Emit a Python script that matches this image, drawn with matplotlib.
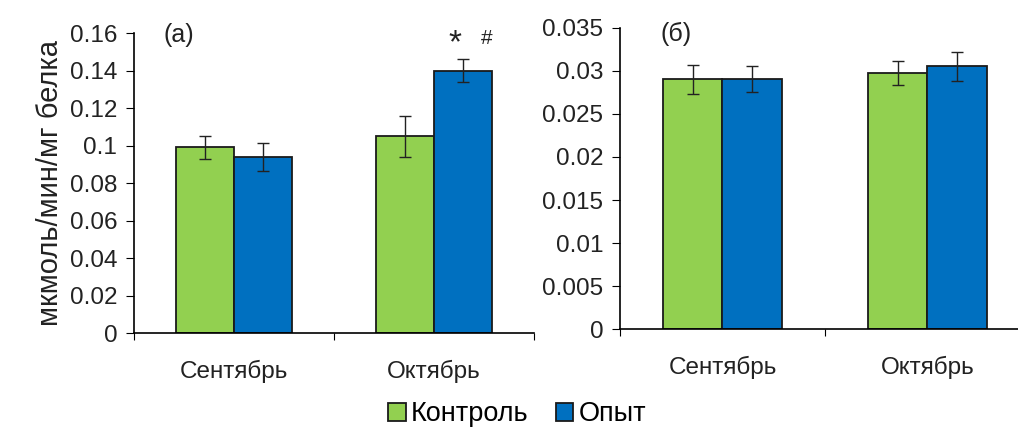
import matplotlib
matplotlib.use("Agg")
import matplotlib.pyplot as plt
import numpy as np

plt.rcParams['font.family'] = ['Liberation Sans', 'DejaVu Sans']

months = ['Сентябрь', 'Октябрь']
series = ['Контроль', 'Опыт']
colors = ['#92D050', '#0070C0']

# panel (a)
a_control = [0.099, 0.105]
a_control_err = [0.006, 0.011]
a_exp = [0.094, 0.140]
a_exp_err = [0.0075, 0.006]

# panel (б)
b_control = [0.029, 0.0297]
b_control_err = [0.0017, 0.0014]
b_exp = [0.029, 0.0305]
b_exp_err = [0.0015, 0.0017]

fig = plt.figure(figsize=(10.18, 4.36), dpi=100)
ax1 = fig.add_axes([0.1316, 0.2362, 0.393, 0.688])
ax2 = fig.add_axes([0.609, 0.2447, 0.4028, 0.6918])

w = 0.29
x = np.arange(len(months)) + 0.5


def panel(ax, ctl, ctl_err, exp, exp_err, ymax, step, fmt):
    b1 = ax.bar(x - w / 2, ctl, w, yerr=ctl_err, color=colors[0], edgecolor='#1a1a1a',
                linewidth=1.3, capsize=4, error_kw=dict(elinewidth=1, capthick=1, ecolor='#222222'),
                label=series[0])
    b2 = ax.bar(x + w / 2, exp, w, yerr=exp_err, color=colors[1], edgecolor='#1a1a1a',
                linewidth=1.3, capsize=4, error_kw=dict(elinewidth=1, capthick=1, ecolor='#222222'),
                label=series[1])
    ax.set_xlim(0, 2)
    ax.set_ylim(0, ymax)
    yt = np.arange(0, ymax + step / 2, step)
    ax.set_yticks(yt)
    ax.set_yticklabels([fmt(v) for v in yt], fontsize=17.5, color='#222222')
    ax.set_xticks([0, 1, 2])
    ax.set_xticklabels([])
    ax.set_xticks(x, minor=True)
    ax.set_xticklabels(months, minor=True, fontsize=17.5, color='#222222')
    ax.tick_params(axis='x', which='minor', length=0, pad=19)
    ax.tick_params(axis='x', which='major', length=5, direction='out')
    ax.tick_params(axis='y', length=6, direction='out', pad=6)
    for s in ['top', 'right']:
        ax.spines[s].set_visible(False)
    ax.spines['left'].set_linewidth(1.2)
    ax.spines['bottom'].set_linewidth(1.2)
    return b1, b2


def fmt_a(v):
    s = f"{v:.2f}"
    return '0' if v == 0 else (s.rstrip('0') if s.endswith('0') else s)


def fmt_b(v):
    if v == 0:
        return '0'
    s = f"{v:.3f}".rstrip('0')
    return s


h1, h2 = panel(ax1, a_control, a_control_err, a_exp, a_exp_err, 0.16, 0.02, fmt_a)
panel(ax2, b_control, b_control_err, b_exp, b_exp_err, 0.035, 0.005, fmt_b)

ax1.set_ylabel('мкмоль/мин/мг белка', fontsize=21, color='#222222', labelpad=4)
ax1.text(0.15, 0.159, '(a)', fontsize=18, va='center', ha='left', color='#222222')
ax2.text(0.2, 0.0343, '(б)', fontsize=18, va='center', ha='left', color='#222222')
ax1.text(x[1] + w / 2 - 0.04, 0.1545, '*', fontsize=24, ha='center', va='center', color='#222222')
ax1.text(x[1] + w / 2 + 0.12, 0.157, '#', fontsize=15, ha='center', va='center', color='#222222')

fig.legend([h1, h2], series, loc='center', bbox_to_anchor=(0.508, 0.05), ncol=2,
           frameon=False, fontsize=19.5, handlelength=0.65, handleheight=0.65,
           handletextpad=0.2, columnspacing=1.0)

fig.savefig('out.png', dpi=100)
